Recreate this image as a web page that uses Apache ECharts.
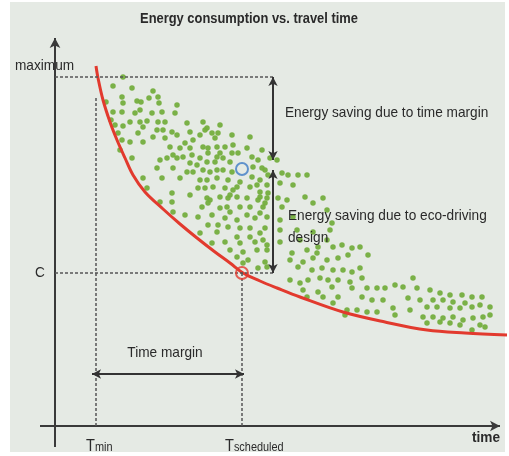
<!DOCTYPE html>
<html><head><meta charset="utf-8">
<script src="https://cdn.jsdelivr.net/npm/echarts@6/dist/echarts.min.js"></script>
<style>html,body{margin:0;padding:0;background:#fff;}#c{width:509px;height:456px;}</style>
</head><body><div id="c"></div>
<script>
const FONT = "'Liberation Sans', Arial, sans-serif";
const NARROW = 0.91;

// Reference levels (time on x, energy on y; arbitrary units)
const tMin = 41;
const tScheduled = 187;
const energyMax = 349;
const energyC = 153;
const energyEco = 257;
const arrowTime = 218;
const marginArrowEnergy = 52;

// Tick / annotation texts
const titleText = 'Energy consumption vs. travel time';
const yLabels = ['maximum', 'C'];
const xLabels = [['T', 'min'], ['T', 'scheduled']];
const xAxisName = 'time';
const noteTimeMargin = 'Energy saving due to time margin';
const noteEco = ['Energy saving due to eco-driving', 'design'];
const noteMargin = 'Time margin';

// Minimum-energy curve
const curveData = [[41,360],[43,348],[48,326],[55,304],[62,286],[70,268],[78,251],[90,234],[108,217],[125,202],[142,188],[160,174],[175,163],[188,153],[205,145],[222,138],[245,129],[288,114],[330,104],[372,96],[410,93],[452,91]];

// Observed runs (scatter)
const runs = [
[68,349],[58,340],[77,338],[98,335],[67,329],[51,324],[82,325],[86,324],[94,328],[103,329],[68,323],[104,323],[122,321],
[58,314],[67,314],[80,313],[85,316],[97,313],[107,314],[120,313],[56,306],[75,304],[85,304],[92,305],[103,304],[110,304],
[132,303],[148,304],[60,301],[68,300],[88,299],[63,293],[83,293],[102,296],[108,296],[117,294],[135,294],[152,298],[98,289],
[122,291],[145,291],[67,286],[75,284],[88,284],[110,288],[130,283],[138,286],[160,288],[65,276],[115,279],[125,278],[135,278],
[148,279],[153,278],[118,271],[122,268],[128,269],[137,271],[145,268],[162,269],[77,268],[105,266],[112,268],[102,258],[118,258],
[135,263],[142,261],[132,254],[138,254],[148,256],[155,254],[162,256],[88,248],[107,248],[125,248],
[150,296],[165,301],[157,293],[163,293],[162,279],[170,279],[177,291],[178,281],[192,278],[195,289],[153,273],[165,273],[177,273],
[183,273],[207,276],[152,264],[160,264],[168,268],[175,264],[197,269],[203,266],[215,268],[168,256],[177,254],[198,259],[207,258],
[222,266],[152,246],[162,248],[173,246],[185,244],[197,249],[205,246],[213,251],[227,253],[233,251],[150,238],[158,239],[170,238],
[178,236],[195,239],[205,234],[212,241],[155,226],[165,229],[173,228],[182,229],[192,228],[203,226],[212,228],[223,228],[232,226],
[172,219],[185,219],[208,219],[227,219],
[92,238],[145,246],[143,238],[182,239],[202,241],[117,233],[135,231],[152,228],[175,231],[205,229],[105,224],[117,224],[147,219],
[153,223],[165,218],[195,219],[118,214],[130,211],[143,209],[157,211],[175,214],[192,211],[205,213],[170,208],[182,206],[200,208],
[153,201],[163,201],[173,199],[185,198],[195,198],[210,198],[145,193],[162,194],[182,189],[195,189],[205,193],[157,183],[170,184],
[185,183],[200,184],[212,181],[175,176],[188,174],[202,176],[182,169],[193,166],[210,164],[188,163],[203,158],[212,159],
[210,256],[243,251],[252,251],[225,243],[238,241],[213,233],[250,229],[268,228],[210,223],[212,209],[225,206],[275,196],[225,196],
[242,196],[208,186],[225,184],[272,186],[287,181],[297,178],[305,179],[212,176],[237,173],[252,176],[262,173],
[238,209],[245,186],[258,223],[272,216],[277,203],[258,194],[263,179],[278,179],[235,166],[248,164],[258,168],[272,166],[283,168],
[293,171],[313,171],[243,159],[257,156],[267,158],[278,156],[288,156],[297,154],[305,158],[235,146],[245,143],[253,146],[265,148],
[273,146],[283,146],[295,144],[307,148],[248,136],[263,134],[277,139],[297,138],[312,138],[322,138],[330,138],[340,141],[348,139],
[358,148],[362,138],[375,136],[385,133],[395,131],[407,131],[417,129],[427,129],[252,129],[268,129],[283,129],[307,129],[317,126],
[328,126],[353,128],[365,126],[378,126],[388,126],[398,124],[410,123],[425,121],[372,119],[382,119],[395,118],[405,118],[417,119],
[435,119],[278,123],[292,116],[302,116],[312,114],[322,114],[338,118],[340,111],[355,116],[368,109],[378,109],[388,108],[398,109],
[408,106],[418,108],[428,109],[435,111],[372,103],[385,104],[395,103],[405,101],[425,101],[417,96],[430,99],[290,111]
];

const ecoPoint = [[tScheduled, energyEco]];
const optimumPoint = [[tScheduled, energyC]];

const chart = echarts.init(document.getElementById('c'), null, {renderer: 'canvas'});
const axisColor = '#3a3a3a';
const textColor = '#2a2a2a';

function mlSeries(name, lines, style, symbols, symSize) {
  return {
    type: 'line', name, data: [], silent: true, z: 5,
    markLine: {
      silent: true, animation: false,
      symbol: symbols, symbolSize: symSize,
      label: {show: false},
      lineStyle: style,
      emphasis: {disabled: true},
      data: lines.map(l => [{coord: l[0]}, {coord: l[1]}])
    }
  };
}

function txt(x, y, text, font, align, extra) {
  return Object.assign({
    type: 'text', z: 10, silent: true, x, y, scaleX: NARROW,
    style: {text, font: font + ' ' + FONT, fill: textColor, align, verticalAlign: 'middle', textAlign: align, textVerticalAlign: 'middle'}
  }, extra || {});
}

function subLabel(x, parts) {
  return {
    type: 'text', z: 10, silent: true, x, y: 455, scaleX: NARROW,
    style: {
      text: '{a|' + parts[0] + '}{b|' + parts[1] + '}', fill: textColor,
      align: 'left', verticalAlign: 'bottom', textAlign: 'left', textVerticalAlign: 'bottom',
      rich: {
        a: {fontFamily: FONT, fontSize: 16, color: textColor, verticalAlign: 'bottom'},
        b: {fontFamily: FONT, fontSize: 12, color: textColor, verticalAlign: 'bottom', padding: [0, 0, 1, 0]}
      }
    }
  };
}

const option = {
  backgroundColor: '#ffffff',
  animation: false,
  grid: {left: 0, right: 0, top: 0, bottom: 0},
  xAxis: {type: 'value', min: -55, max: 454, show: false},
  yAxis: {type: 'value', min: -30, max: 426, show: false},
  graphic: [
    {type: 'rect', z: -10, silent: true, shape: {x: 10, y: 2, width: 495, height: 450}, style: {fill: '#e5eae4'}},
    txt(249, 19, titleText, 'bold 15px', 'center', {scaleX: 0.86}),
    txt(15, 66, yLabels[0], '15px', 'left'),
    txt(35, 273, yLabels[1], '15px', 'left'),
    subLabel(86, xLabels[0]),
    subLabel(225, xLabels[1]),
    txt(500, 438, xAxisName, 'bold 15px', 'right'),
    txt(285, 113, noteTimeMargin, '15px', 'left'),
    txt(288, 216, noteEco[0], '15px', 'left'),
    txt(288, 238, noteEco[1], '15px', 'left'),
    txt(165, 353, noteMargin, '15px', 'center')
  ],
  series: [
    mlSeries('axes', [[[0, -21], [0, 388]], [[-15, 0], [445, 0]]],
      {color: axisColor, width: 2, type: 'solid'}, ['none', 'arrow'], [8, 10]),
    mlSeries('guides', [[[0, energyMax], [arrowTime, energyMax]], [[0, energyC], [arrowTime, energyC]], [[tMin, 0], [tMin, 329]], [[tScheduled, 0], [tScheduled, energyC]]],
      {color: '#555555', width: 1.5, type: [3, 2]}, ['none', 'none'], 0),
    mlSeries('arrows', [[[arrowTime, energyMax], [arrowTime, 266]], [[arrowTime, 256], [arrowTime, energyC]], [[37, marginArrowEnergy], [189, marginArrowEnergy]]],
      {color: '#333333', width: 2, type: 'solid'}, ['arrow', 'arrow'], [7, 9]),
    {
      type: 'scatter', name: 'runs', data: runs, symbolSize: 5.5, z: 3, silent: true,
      itemStyle: {color: '#74ae3e', opacity: 0.95}
    },
    {
      type: 'line', name: 'minimum', data: curveData, showSymbol: false, smooth: 0.35, z: 4, silent: true,
      lineStyle: {color: '#e23a2e', width: 3}
    },
    {
      type: 'scatter', name: 'eco', data: ecoPoint, symbol: 'circle', symbolSize: 12, z: 6, silent: true,
      itemStyle: {color: 'rgba(0,0,0,0)', borderColor: '#3d7cc6', borderWidth: 2}
    },
    {
      type: 'scatter', name: 'optimum', data: optimumPoint, symbol: 'circle', symbolSize: 12, z: 6, silent: true,
      itemStyle: {color: 'rgba(0,0,0,0)', borderColor: '#e23a2e', borderWidth: 2}
    }
  ]
};
chart.setOption(option);
</script>
</body></html>
